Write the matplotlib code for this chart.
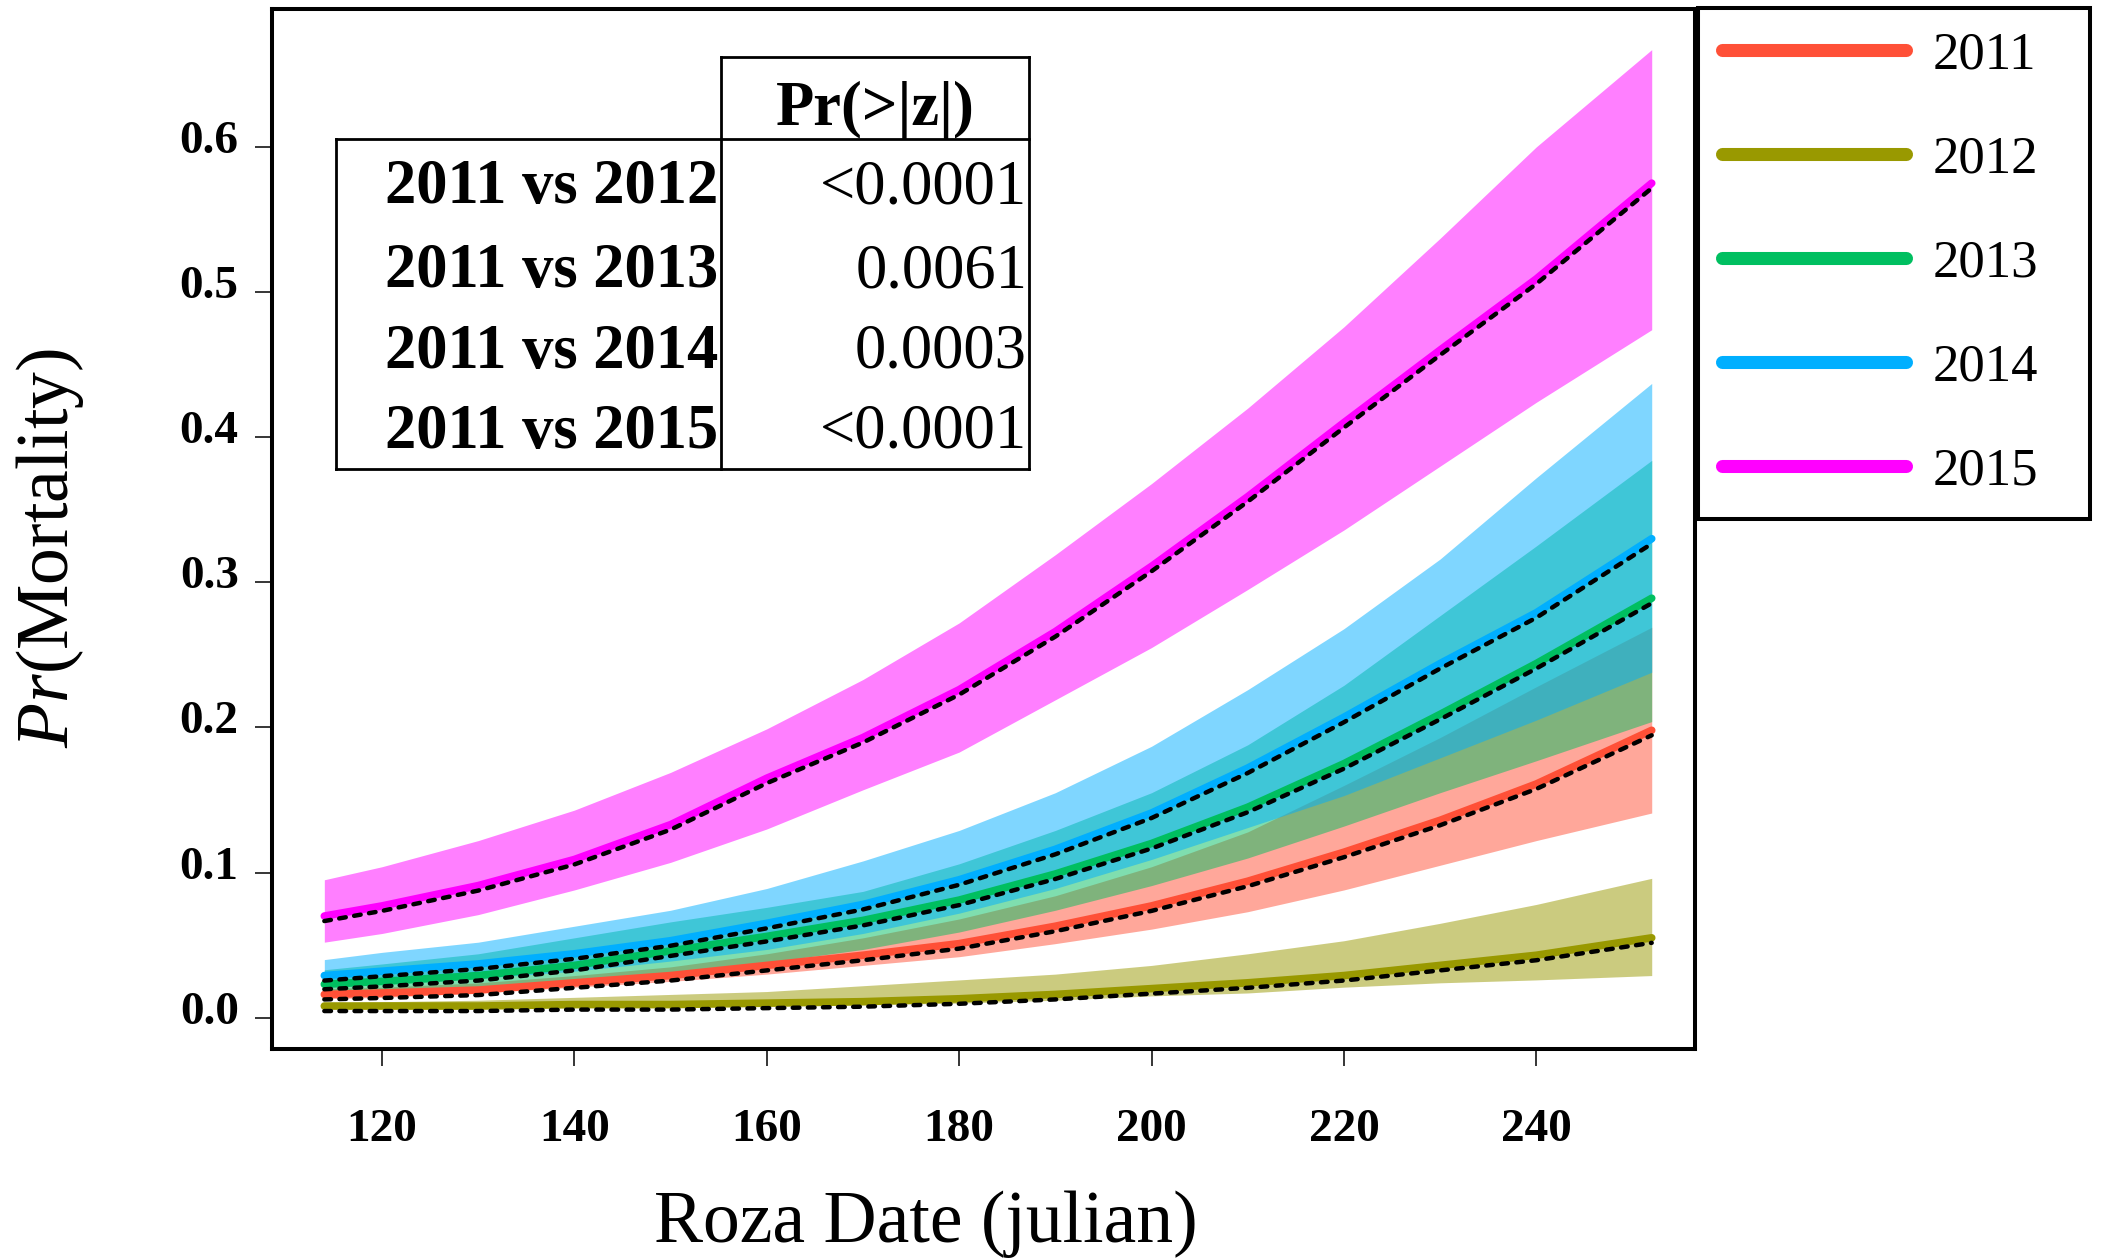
import matplotlib
matplotlib.use('Agg')
import matplotlib.pyplot as plt
from matplotlib.lines import Line2D
from matplotlib.transforms import ScaledTranslation

plt.rcParams['font.family'] = ['Liberation Serif', 'DejaVu Serif']
plt.rcParams['mathtext.fontset'] = 'custom'
plt.rcParams['mathtext.rm'] = 'Liberation Serif'
plt.rcParams['mathtext.it'] = 'Liberation Serif:italic'

# ---------------------------------------------------------
# data (julian date -> Pr(mortality))
# ---------------------------------------------------------
roza_date = [114, 120, 130, 140, 150, 160, 170, 180, 190, 200, 210, 220, 230, 240, 252]

years = ['2011', '2012', '2013', '2014', '2015']
colors = ['#FF5037', '#999900', '#00BF60', '#00AFFF', '#FF00FF']

mean_2011 = [0.016, 0.017, 0.019, 0.024, 0.029, 0.036, 0.043, 0.051, 0.063, 0.077, 0.094, 0.114, 0.136, 0.161, 0.198]
upper_2011 = [0.020, 0.021, 0.024, 0.029, 0.035, 0.044, 0.055, 0.068, 0.084, 0.104, 0.128, 0.160, 0.193, 0.228, 0.269]
lower_2011 = [0.013, 0.014, 0.017, 0.021, 0.025, 0.030, 0.036, 0.042, 0.051, 0.061, 0.073, 0.088, 0.105, 0.122, 0.141]

mean_2012 = [0.008, 0.008, 0.008, 0.009, 0.009, 0.010, 0.011, 0.013, 0.016, 0.020, 0.024, 0.029, 0.036, 0.043, 0.055]
upper_2012 = [0.010, 0.011, 0.012, 0.014, 0.016, 0.018, 0.022, 0.026, 0.030, 0.036, 0.044, 0.053, 0.065, 0.078, 0.096]
lower_2012 = [0.007, 0.007, 0.007, 0.008, 0.008, 0.008, 0.009, 0.010, 0.012, 0.015, 0.017, 0.021, 0.024, 0.026, 0.029]

mean_2013 = [0.023, 0.025, 0.029, 0.036, 0.046, 0.056, 0.067, 0.081, 0.099, 0.120, 0.145, 0.175, 0.209, 0.244, 0.289]
upper_2013 = [0.033, 0.037, 0.044, 0.055, 0.066, 0.076, 0.087, 0.106, 0.129, 0.155, 0.188, 0.229, 0.277, 0.325, 0.384]
lower_2013 = [0.016, 0.018, 0.021, 0.025, 0.031, 0.038, 0.047, 0.059, 0.074, 0.091, 0.110, 0.132, 0.155, 0.177, 0.204]

mean_2014 = [0.029, 0.032, 0.037, 0.044, 0.053, 0.065, 0.078, 0.095, 0.116, 0.141, 0.172, 0.207, 0.244, 0.279, 0.330]
upper_2014 = [0.040, 0.045, 0.052, 0.063, 0.074, 0.089, 0.108, 0.129, 0.155, 0.187, 0.226, 0.268, 0.316, 0.372, 0.437]
lower_2014 = [0.021, 0.023, 0.027, 0.032, 0.039, 0.047, 0.058, 0.072, 0.089, 0.109, 0.131, 0.153, 0.179, 0.205, 0.238]

mean_2015 = [0.070, 0.077, 0.091, 0.109, 0.133, 0.165, 0.193, 0.226, 0.266, 0.311, 0.359, 0.410, 0.460, 0.509, 0.575]
upper_2015 = [0.095, 0.104, 0.122, 0.143, 0.169, 0.199, 0.233, 0.272, 0.319, 0.368, 0.420, 0.476, 0.537, 0.600, 0.667]
lower_2015 = [0.052, 0.058, 0.071, 0.088, 0.107, 0.130, 0.157, 0.183, 0.219, 0.255, 0.295, 0.336, 0.380, 0.424, 0.474]

means = [mean_2011, mean_2012, mean_2013, mean_2014, mean_2015]
uppers = [upper_2011, upper_2012, upper_2013, upper_2014, upper_2015]
lowers = [lower_2011, lower_2012, lower_2013, lower_2014, lower_2015]

# comparison table
comparisons = ['2011 vs 2012', '2011 vs 2013', '2011 vs 2014', '2011 vs 2015']
p_values = ['<0.0001', '0.0061', '0.0003', '<0.0001']

x_ticks = [120, 140, 160, 180, 200, 220, 240]
y_ticks = [0.0, 0.1, 0.2, 0.3, 0.4, 0.5, 0.6]

# ---------------------------------------------------------
W, H = 2101, 1258
fig = plt.figure(figsize=(W / 100, H / 100), dpi=100)
ax = fig.add_axes([272 / W, 1 - 1049 / H, (1695 - 272) / W, (1049 - 9) / H])


def fx(px):
    return px / W


def fy(py):
    return 1 - py / H


# confidence bands first, then the fitted lines on top
for lo, hi, c in zip(lowers, uppers, colors):
    ax.fill_between(roza_date, lo, hi, color=c, alpha=0.5, lw=0)

dash_shift = ax.transData + ScaledTranslation(0, -0.05, fig.dpi_scale_trans)
for m, c in zip(means, colors):
    ax.plot(roza_date, m, color=c, lw=5.5, solid_capstyle='round')
    ax.plot(roza_date, m, color='black', lw=3.2, dashes=(1.5, 1.9),
            dash_capstyle='round', transform=dash_shift)

ax.set_xlim(108.56, 256.5)
ax.set_ylim(-0.0216, 0.695)
ax.set_xticks(x_ticks)
ax.set_yticks(y_ticks)
ax.set_yticklabels([f'{v:.1f}' for v in y_ticks])

for s in ax.spines.values():
    s.set_linewidth(2.9)
ax.tick_params(direction='out', length=12, width=1.1, labelsize=34)
ax.tick_params(axis='x', pad=31)
ax.tick_params(axis='y', pad=12)
for lab in ax.get_xticklabels() + ax.get_yticklabels():
    lab.set_fontweight('bold')
ylab_shift = ScaledTranslation(0, 0.10, fig.dpi_scale_trans)
for lab in ax.get_yticklabels():
    lab.set_transform(lab.get_transform() + ylab_shift)

ax.set_xlabel('Roza Date (julian)', fontsize=53)
ax.xaxis.set_label_coords(0.4596, -0.1365)
ax.set_ylabel(r'$\mathit{Pr}$(Mortality)', fontsize=53)
ax.yaxis.set_label_coords(-0.131, 0.482)

# p-value table drawn in figure pixels
tbl_lw = 2.0
tbl_lines = [
    ((336, 721), (139, 139)), ((336, 1029), (469, 469)), ((336, 336), (139, 469)),
    ((721, 721), (57, 469)), ((1029, 1029), (57, 469)), ((721, 1029), (57, 57)),
    ((721, 1029), (139, 139)),
]
for xs, ys in tbl_lines:
    fig.add_artist(Line2D([fx(v) for v in xs], [fy(v) for v in ys],
                          color='black', lw=tbl_lw))

fig.text(fx(875), fy(125), 'Pr(>|z|)', fontsize=45, fontweight='bold',
         ha='center', va='baseline')
row_base = [203, 287, 368, 448]
for name, p, yb in zip(comparisons, p_values, row_base):
    fig.text(fx(718), fy(yb), name, fontsize=45, fontweight='bold',
             ha='right', va='baseline')
    fig.text(fx(1027), fy(yb), p, fontsize=45, ha='right', va='baseline')

handles = [Line2D([0], [0], color=c, lw=9.4, solid_capstyle='round') for c in colors]
leg = ax.legend(handles, years, loc='upper left',
                bbox_to_anchor=(fx(1698), fy(510), fx(2090) - fx(1698), fy(8) - fy(510)),
                bbox_transform=fig.transFigure, mode='expand', borderaxespad=0,
                fontsize=38, handlelength=3.5, handletextpad=0.5, labelspacing=1.06,
                borderpad=0.45, fancybox=False, framealpha=1, edgecolor='black')
leg.get_frame().set_linewidth(2.9)

fig.savefig('out.png', dpi=100, facecolor='white')
